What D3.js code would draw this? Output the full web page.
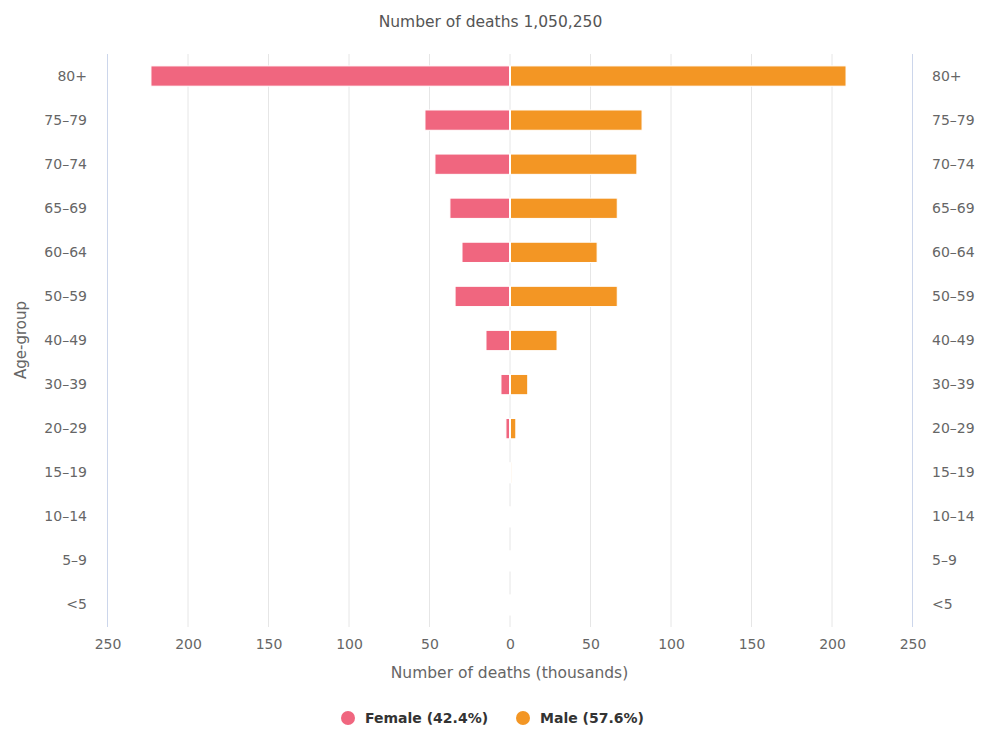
<!DOCTYPE html>
<html><head><meta charset="utf-8">
<script src="https://cdn.jsdelivr.net/npm/d3@7"></script>
<style>body{margin:0;background:#fff;font-family:"DejaVu Sans",sans-serif;}</style>
</head><body><svg id="c" width="981" height="729"></svg>
<script>
const ageGroups = ["80+","75–79","70–74","65–69","60–64","50–59","40–49","30–39","20–29","15–19","10–14","5–9","<5"];
const female = [222.7, 52.5, 46.3, 37.0, 29.5, 33.8, 14.6, 5.3, 2.2, 0.3, 0.1, 0.1, 0.1];
const male   = [208.4, 81.7, 78.5, 66.3, 53.8, 66.3, 28.9, 10.7, 3.3, 0.5, 0.2, 0.1, 0.1];
const xTicks = [-250,-200,-150,-100,-50,0,50,100,150,200,250];
const titleText = "Number of deaths 1,050,250";
const legendItems = [{name:"Female (42.4%)", color:"#f0667f"},{name:"Male (57.6%)", color:"#f39624"}];

const svg = d3.select("#c");
const L = 107, R = 912, T = 54, B = 627;
const x = d3.scaleLinear().domain([-250,250]).range([L,R]);
const y = d3.scaleBand().domain(ageGroups).range([T,B]).paddingInner(0.54).paddingOuter(0.27);

svg.append("text").attr("x",490.5).attr("y",27).attr("text-anchor","middle")
  .attr("font-size",15.5).attr("fill","#555").text(titleText);

// grid
svg.append("g").selectAll("line").data(xTicks).join("line")
  .attr("x1",d=>x(d)+0.5).attr("x2",d=>x(d)+0.5).attr("y1",T).attr("y2",B)
  .attr("stroke","#e6e6e6").attr("stroke-width",1);
// axis lines left/right
[L,R].forEach(px=>svg.append("line").attr("x1",px+0.5).attr("x2",px+0.5).attr("y1",T).attr("y2",B)
  .attr("stroke","#ccd6eb").attr("stroke-width",1));

// bars
const bars = svg.append("g");
bars.selectAll("rect.f").data(ageGroups).join("rect").attr("class","f")
  .attr("x",(d,i)=>x(-female[i])).attr("width",(d,i)=>x(0)-x(-female[i]))
  .attr("y",d=>y(d)).attr("height",y.bandwidth())
  .attr("fill",legendItems[0].color).attr("stroke","#fff").attr("stroke-width",1);
bars.selectAll("rect.m").data(ageGroups).join("rect").attr("class","m")
  .attr("x",x(0)+1).attr("width",(d,i)=>x(male[i])-x(0))
  .attr("y",d=>y(d)).attr("height",y.bandwidth())
  .attr("fill",legendItems[1].color).attr("stroke","#fff").attr("stroke-width",1);

// y axis labels
const gL = svg.append("g").attr("transform",`translate(87,0)`).call(d3.axisLeft(y).tickSize(0).tickPadding(0));
const gR = svg.append("g").attr("transform",`translate(932,0)`).call(d3.axisRight(y).tickSize(0).tickPadding(0));
[gL,gR].forEach(g=>{g.select(".domain").remove();
  g.selectAll("text").attr("font-size",14).attr("fill","#666").attr("font-family","DejaVu Sans");});

// x axis
const gx = svg.append("g").attr("transform",`translate(0.5,${B})`)
  .call(d3.axisBottom(x).tickValues(xTicks).tickFormat(d=>Math.abs(d)).tickSize(0).tickPadding(12));
gx.select(".domain").remove();
gx.selectAll("text").attr("font-size",14).attr("fill","#666").attr("font-family","DejaVu Sans");

svg.append("text").attr("x",x(0)).attr("y",678).attr("text-anchor","middle")
  .attr("font-size",15.5).attr("fill","#666").text("Number of deaths (thousands)");
svg.append("text").attr("transform","translate(26,340) rotate(-90)").attr("text-anchor","middle")
  .attr("font-size",15).attr("fill","#666").text("Age-group");

// legend
const lx = [348, 523];
const lg = svg.append("g").selectAll("g").data(legendItems).join("g")
  .attr("transform",(d,i)=>`translate(${lx[i]},718)`);
lg.append("circle").attr("r",7).attr("fill",d=>d.color);
lg.append("text").attr("x",17).attr("dy","0.35em").attr("font-size",14).attr("font-weight","bold")
  .attr("fill","#333").text(d=>d.name);
</script></body></html>
